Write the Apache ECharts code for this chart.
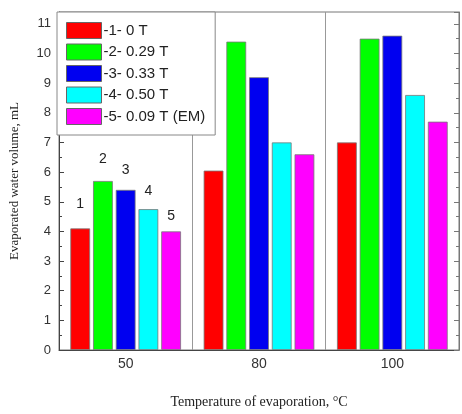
<!DOCTYPE html>
<html><head><meta charset="utf-8">
<script src="https://cdn.jsdelivr.net/npm/echarts@6/dist/echarts.min.js"></script>
<style>html,body{margin:0;padding:0;background:#fff}#c{width:462px;height:414px}</style>
</head><body><div id="c"></div>
<script>
const categories = ['50', '80', '100'];
const seriesNames = ['-1- 0 T', '-2- 0.29 T', '-3- 0.33 T', '-4- 0.50 T', '-5- 0.09 T (EM)'];
const barLabels = ['1', '2', '3', '4', '5'];
const s1 = [4.1, 6.05, 7.0];
const s2 = [5.7, 10.4, 10.5];
const s3 = [5.4, 9.2, 10.6];
const s4 = [4.75, 7.0, 8.6];
const s5 = [4.0, 6.6, 7.7];
const colors = ['#ff0000', '#00ff00', '#0000f0', '#00ffff', '#ff00ff'];

const allData = [s1, s2, s3, s4, s5];
const labelDist = [17, 15, 13, 11, 8];
const chart = echarts.init(document.getElementById('c'));
const series = allData.map((d, i) => ({
  name: seriesNames[i],
  type: 'bar',
  barGap: '15%',
  barCategoryGap: '17%',
  itemStyle: { color: colors[i], borderColor: '#777', borderWidth: 0.8 },
  data: d.map((v, j) => j === 0 ? {
    value: v,
    label: { show: true, position: 'top', distance: labelDist[i], formatter: barLabels[i], color: '#222', fontSize: 14, fontFamily: 'Liberation Sans, Arial, sans-serif' }
  } : v)
}));
chart.setOption({
  animation: false,
  color: colors,
  grid: { left: 56, right: 3, top: 12, bottom: 63, show: true, borderColor: '#777', borderWidth: 1 },
  legend: {
    orient: 'vertical', left: 57, top: 12,
    padding: [10, 10, 10, 9], itemGap: 4.5,
    itemWidth: 35, itemHeight: 16,
    backgroundColor: '#fff', borderColor: '#888', borderWidth: 1,
    icon: 'rect',
    itemStyle: { borderColor: '#666', borderWidth: 1 },
    textStyle: { fontSize: 15, color: '#222', fontFamily: 'Liberation Sans, Arial, sans-serif', padding: [0, 0, 0, -3] },
    data: seriesNames
  },
  xAxis: {
    type: 'category', data: categories,
    name: 'Temperature of evaporation, °C', nameLocation: 'middle', nameGap: 45,
    nameTextStyle: { fontFamily: 'Liberation Serif, Times New Roman, serif', fontSize: 14, color: '#222' },
    axisLine: { show: true, lineStyle: { color: '#444' } },
    axisTick: { show: false },
    axisLabel: { fontSize: 14, color: '#333', margin: 7, fontFamily: 'Liberation Sans, Arial, sans-serif' },
    splitLine: { show: true, lineStyle: { color: '#999', width: 1 } }
  },
  yAxis: [{
    type: 'value', min: 0, max: 11.4, interval: 1,
    name: 'Evaporated water volume, mL', nameLocation: 'middle', nameGap: 38,
    nameTextStyle: { fontFamily: 'Liberation Serif, Times New Roman, serif', fontSize: 13, color: '#222' },
    axisLine: { show: true, lineStyle: { color: '#444' } },
    axisTick: { show: true, inside: true, length: 5, lineStyle: { color: '#444' } },
    minorTick: { show: true, splitNumber: 2, length: 3, lineStyle: { color: '#444' } },
    axisLabel: { fontSize: 13, color: '#333', margin: 8, showMaxLabel: false, fontFamily: 'Liberation Sans, Arial, sans-serif' },
    splitLine: { show: false }
  }, {
    type: 'value', min: 0, max: 11.4, interval: 1, position: 'right',
    axisLine: { show: true, lineStyle: { color: '#777' } },
    axisTick: { show: true, inside: true, length: 5, lineStyle: { color: '#777' } },
    minorTick: { show: true, splitNumber: 2, length: 3, lineStyle: { color: '#777' } },
    axisLabel: { show: false },
    splitLine: { show: false }
  }],
  series: series
});
</script></body></html>
